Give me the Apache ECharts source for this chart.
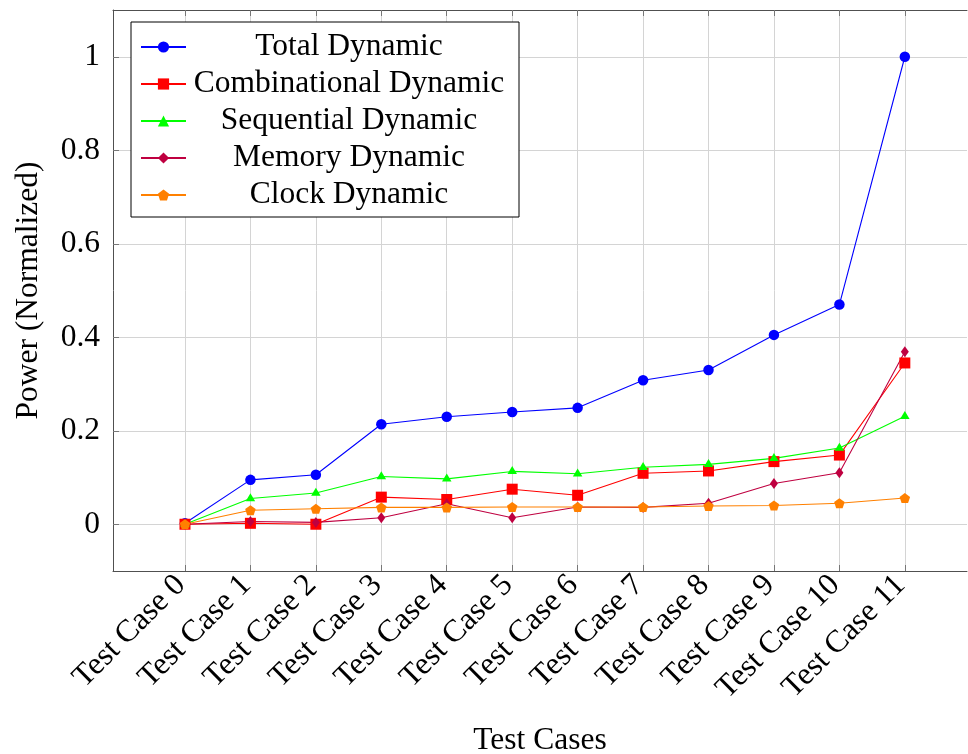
<!DOCTYPE html>
<html>
<head>
<meta charset="utf-8">
<script src="https://cdn.jsdelivr.net/npm/echarts@6/dist/echarts.min.js"></script>
<style>
  html, body { margin: 0; padding: 0; background: #fff; }
  #chart { width: 968px; height: 754px; }
</style>
</head>
<body>
<div id="chart"></div>
<script>
// Test case names along the x axis
const categories = ['Test Case 0', 'Test Case 1', 'Test Case 2', 'Test Case 3', 'Test Case 4', 'Test Case 5',
  'Test Case 6', 'Test Case 7', 'Test Case 8', 'Test Case 9', 'Test Case 10', 'Test Case 11'];

// Normalized dynamic power per test case
const totalDynamic         = [0.002, 0.095, 0.106, 0.214, 0.230, 0.240, 0.249, 0.308, 0.330, 0.405, 0.470, 1.000];
const combinationalDynamic = [0.000, 0.002, 0.000, 0.058, 0.053, 0.075, 0.062, 0.109, 0.114, 0.134, 0.148, 0.345];
const sequentialDynamic    = [0.000, 0.055, 0.067, 0.102, 0.097, 0.113, 0.108, 0.122, 0.128, 0.141, 0.163, 0.231];
const memoryDynamic        = [0.000, 0.006, 0.004, 0.014, 0.044, 0.014, 0.037, 0.036, 0.045, 0.087, 0.110, 0.369];
const clockDynamic         = [0.000, 0.030, 0.033, 0.036, 0.036, 0.037, 0.037, 0.037, 0.039, 0.040, 0.045, 0.056];

// Tick positions
const yTicks = [0, 0.2, 0.4, 0.6, 0.8, 1];
const xTicks = categories.map((_, i) => i);

const FONT = "'Liberation Serif', 'DejaVu Serif', serif";
const FS = 31.5;
const pentagon = 'path://M0,-1L0.951,-0.309L0.588,0.809L-0.588,0.809L-0.951,-0.309Z';

const toPoints = arr => arr.map((v, i) => [i, v]);

function lineSeries(name, values, color, symbol, size, extra) {
  return Object.assign({
    name: name,
    type: 'line',
    xAxisIndex: 0,
    data: toPoints(values),
    symbol: symbol,
    symbolSize: size,
    showSymbol: true,
    animation: false,
    lineStyle: { color: color, width: 1.1 },
    itemStyle: { color: color, borderWidth: 0 },
    emphasis: { disabled: true }
  }, extra || {});
}

const frameLine = { show: true, onZero: false, lineStyle: { color: '#505050', width: 1 } };
const innerTick = values => ({ show: true, inside: true, length: 6, customValues: values, lineStyle: { color: '#777', width: 1 } });

const chart = echarts.init(document.getElementById('chart'), null, { renderer: 'canvas' });

chart.setOption({
  backgroundColor: '#ffffff',
  animation: false,
  textStyle: { fontFamily: FONT },
  grid: {
    left: 113, top: 10, width: 854, height: 561,
    show: false, containLabel: false, outerBoundsMode: 'none'
  },
  legend: {
    orient: 'vertical',
    left: 131, top: 22,
    padding: [9, 12, 6, 9],
    itemWidth: 45, itemHeight: 14, itemGap: 5,
    backgroundColor: '#ffffff',
    borderColor: '#000000', borderWidth: 1, borderRadius: 0,
    formatter: name => '{c|' + name + '}',
    textStyle: {
      fontFamily: FONT, fontSize: FS, lineHeight: 30, color: '#000',
      rich: { c: { width: 316, align: 'center', fontSize: FS, lineHeight: 30, fontFamily: FONT, color: '#000' } }
    },
    selectedMode: false
  },
  xAxis: [{
    type: 'value',
    min: -1.1, max: 11.95,
    name: 'Test Cases',
    nameLocation: 'middle',
    nameGap: 154,
    nameTextStyle: { fontFamily: FONT, fontSize: FS, color: '#000' },
    axisLine: frameLine,
    axisTick: innerTick(xTicks),
    axisLabel: {
      customValues: xTicks, rotate: 45, margin: 5,
      align: 'right', verticalAlign: 'middle', padding: [0, 6, 0, 0],
      fontFamily: FONT, fontSize: FS, color: '#000',
      formatter: v => categories[Math.round(v)]
    },
    splitLine: { show: true, lineStyle: { color: '#d4d4d4', width: 1 } }
  }, {
    type: 'value',
    position: 'top',
    min: -1.1, max: 11.95,
    axisLine: frameLine,
    axisTick: innerTick(xTicks),
    axisLabel: { show: false },
    splitLine: { show: false }
  }],
  yAxis: {
    type: 'value',
    min: -0.1, max: 1.1,
    name: 'Power (Normalized)',
    nameLocation: 'middle',
    nameGap: 68.5,
    nameTextStyle: { fontFamily: FONT, fontSize: FS, color: '#000' },
    axisLine: frameLine,
    axisTick: innerTick(yTicks),
    axisLabel: {
      customValues: yTicks, margin: 13,
      fontFamily: FONT, fontSize: FS, color: '#000',
      formatter: v => String(Math.round(v * 10) / 10)
    },
    splitLine: { show: true, lineStyle: { color: '#d4d4d4', width: 1 } }
  },
  series: [
    lineSeries('Total Dynamic', totalDynamic, '#0000ff', 'circle', 10.5),
    lineSeries('Combinational Dynamic', combinationalDynamic, '#ff0000', 'rect', 11),
    lineSeries('Sequential Dynamic', sequentialDynamic, '#00ff00', 'triangle', [9.5, 8], { symbolOffset: [0, -1.3] }),
    lineSeries('Memory Dynamic', memoryDynamic, '#bf0040', 'diamond', [8, 11]),
    lineSeries('Clock Dynamic', clockDynamic, '#ff8000', pentagon, [10.5, 10])
  ]
});
</script>
</body>
</html>
